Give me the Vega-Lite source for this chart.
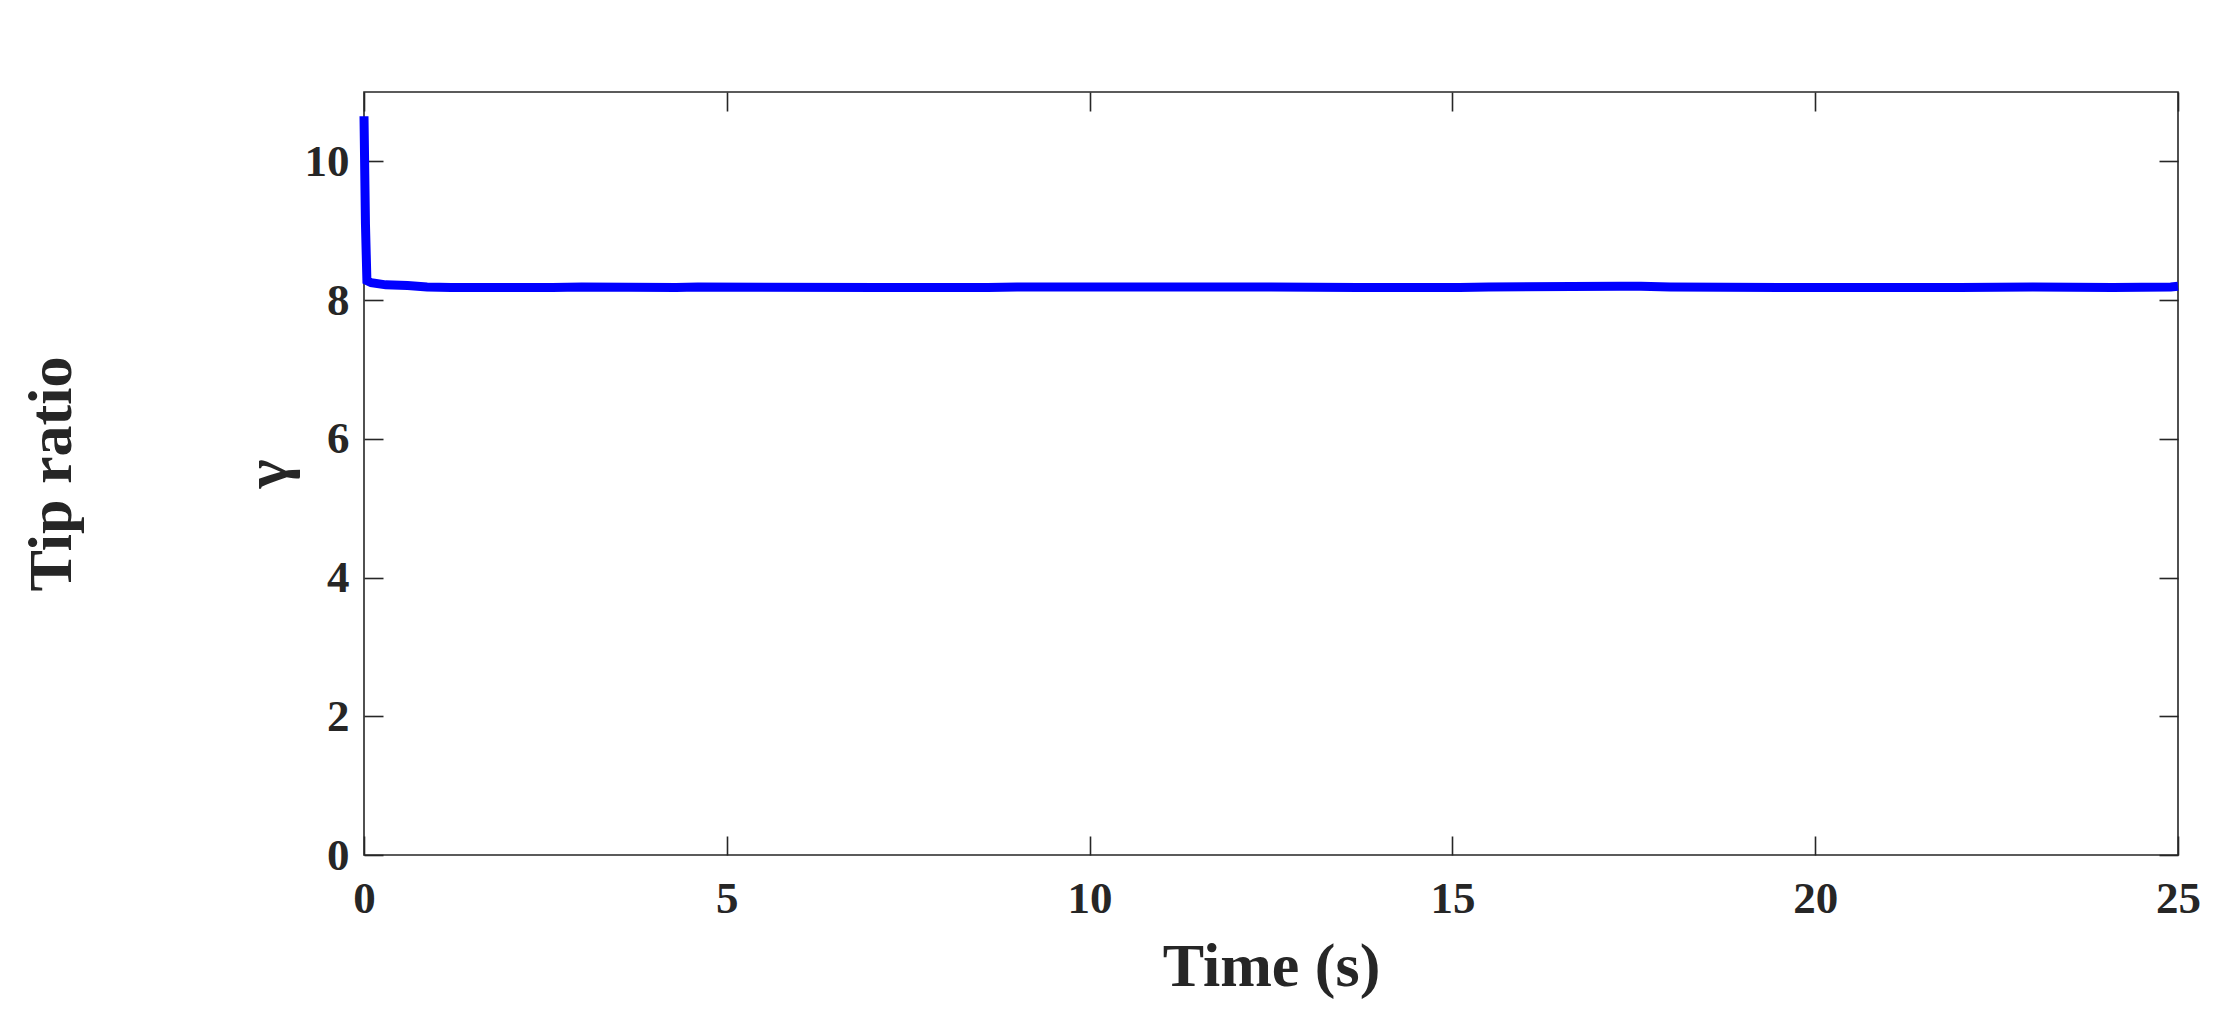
{
  "$schema": "https://vega.github.io/schema/vega-lite/v6.json",
  "autosize": {"type": "none"},
  "width": 1814,
  "height": 763,
  "padding": {"left": 364, "top": 92, "right": 38, "bottom": 179},
  "background": "white",
  "config": {
    "view": {"stroke": "#262626", "strokeWidth": 1.6},
    "axis": {
      "grid": false,
      "domain": false,
      "tickColor": "#262626",
      "tickWidth": 1.6,
      "tickSize": -19,
      "labelFont": "Liberation Serif",
      "labelFontWeight": "bold",
      "labelFontSize": 45,
      "labelColor": "#262626",
      "labelFlush": false,
      "labelOverlap": false,
      "titleFont": "Liberation Serif",
      "titleFontWeight": "bold",
      "titleFontSize": 62,
      "titleColor": "#262626"
    }
  },
  "data": {
    "values": [
      {"t": 0, "g": 10.65},
      {"t": 0.02, "g": 9.1},
      {"t": 0.04, "g": 8.28},
      {"t": 0.1, "g": 8.25},
      {"t": 0.3, "g": 8.22},
      {"t": 0.6, "g": 8.21},
      {"t": 0.87, "g": 8.19},
      {"t": 1.2, "g": 8.18},
      {"t": 2.6, "g": 8.18},
      {"t": 3.0, "g": 8.19},
      {"t": 4.3, "g": 8.18},
      {"t": 4.6, "g": 8.19},
      {"t": 7.1, "g": 8.18},
      {"t": 8.6, "g": 8.18},
      {"t": 9.0, "g": 8.19},
      {"t": 12.5, "g": 8.19},
      {"t": 13.7, "g": 8.18},
      {"t": 15.1, "g": 8.18},
      {"t": 15.5, "g": 8.19},
      {"t": 17.3, "g": 8.2},
      {"t": 17.6, "g": 8.2},
      {"t": 18, "g": 8.19},
      {"t": 20.1, "g": 8.18},
      {"t": 22, "g": 8.18},
      {"t": 23, "g": 8.19},
      {"t": 24.1, "g": 8.18},
      {"t": 24.9, "g": 8.19},
      {"t": 25, "g": 8.2}
    ]
  },
  "layer": [
    {
      "mark": {"type": "line", "color": "#0000ff", "strokeWidth": 9},
      "encoding": {
        "x": {
          "field": "t", "type": "quantitative",
          "scale": {"domain": [0, 25], "nice": false, "zero": false},
          "axis": {
            "orient": "bottom",
            "values": [0, 5, 10, 15, 20, 25],
            "labelPadding": 40,
            "title": "Time (s)",
            "titleX": 907,
            "titleY": 130,
            "titleBaseline": "alphabetic",
            "titleAlign": "center"
          }
        },
        "y": {
          "field": "g", "type": "quantitative",
          "scale": {"domain": [0, 11], "nice": false, "zero": false},
          "axis": {
            "orient": "left",
            "values": [0, 2, 4, 6, 8, 10],
            "labelPadding": 34,
            "labelBaseline": "middle",
            "title": "γ",
            "titleX": -78,
            "titleY": 381.5,
            "titleAngle": -90,
            "titleBaseline": "alphabetic",
            "titleAlign": "center"
          }
        }
      }
    },
    {
      "mark": {"type": "line", "opacity": 0},
      "encoding": {
        "x": {
          "field": "t", "type": "quantitative",
          "axis": {"orient": "top", "values": [0, 5, 10, 15, 20, 25], "labels": false, "title": null}
        },
        "y": {
          "field": "g", "type": "quantitative",
          "axis": {"orient": "right", "values": [0, 2, 4, 6, 8, 10], "labels": false, "title": null}
        }
      }
    },
    {
      "mark": {"type": "line", "opacity": 0},
      "encoding": {
        "x": {"field": "t", "type": "quantitative", "axis": null},
        "y": {
          "field": "g", "type": "quantitative",
          "axis": {
            "orient": "left",
            "labels": false,
            "ticks": false,
            "title": "Tip ratio",
            "titleX": -294,
            "titleY": 381.5,
            "titleAngle": -90,
            "titleBaseline": "alphabetic",
            "titleAlign": "center"
          }
        }
      }
    }
  ],
  "resolve": {"axis": {"x": "independent", "y": "independent"}}
}
